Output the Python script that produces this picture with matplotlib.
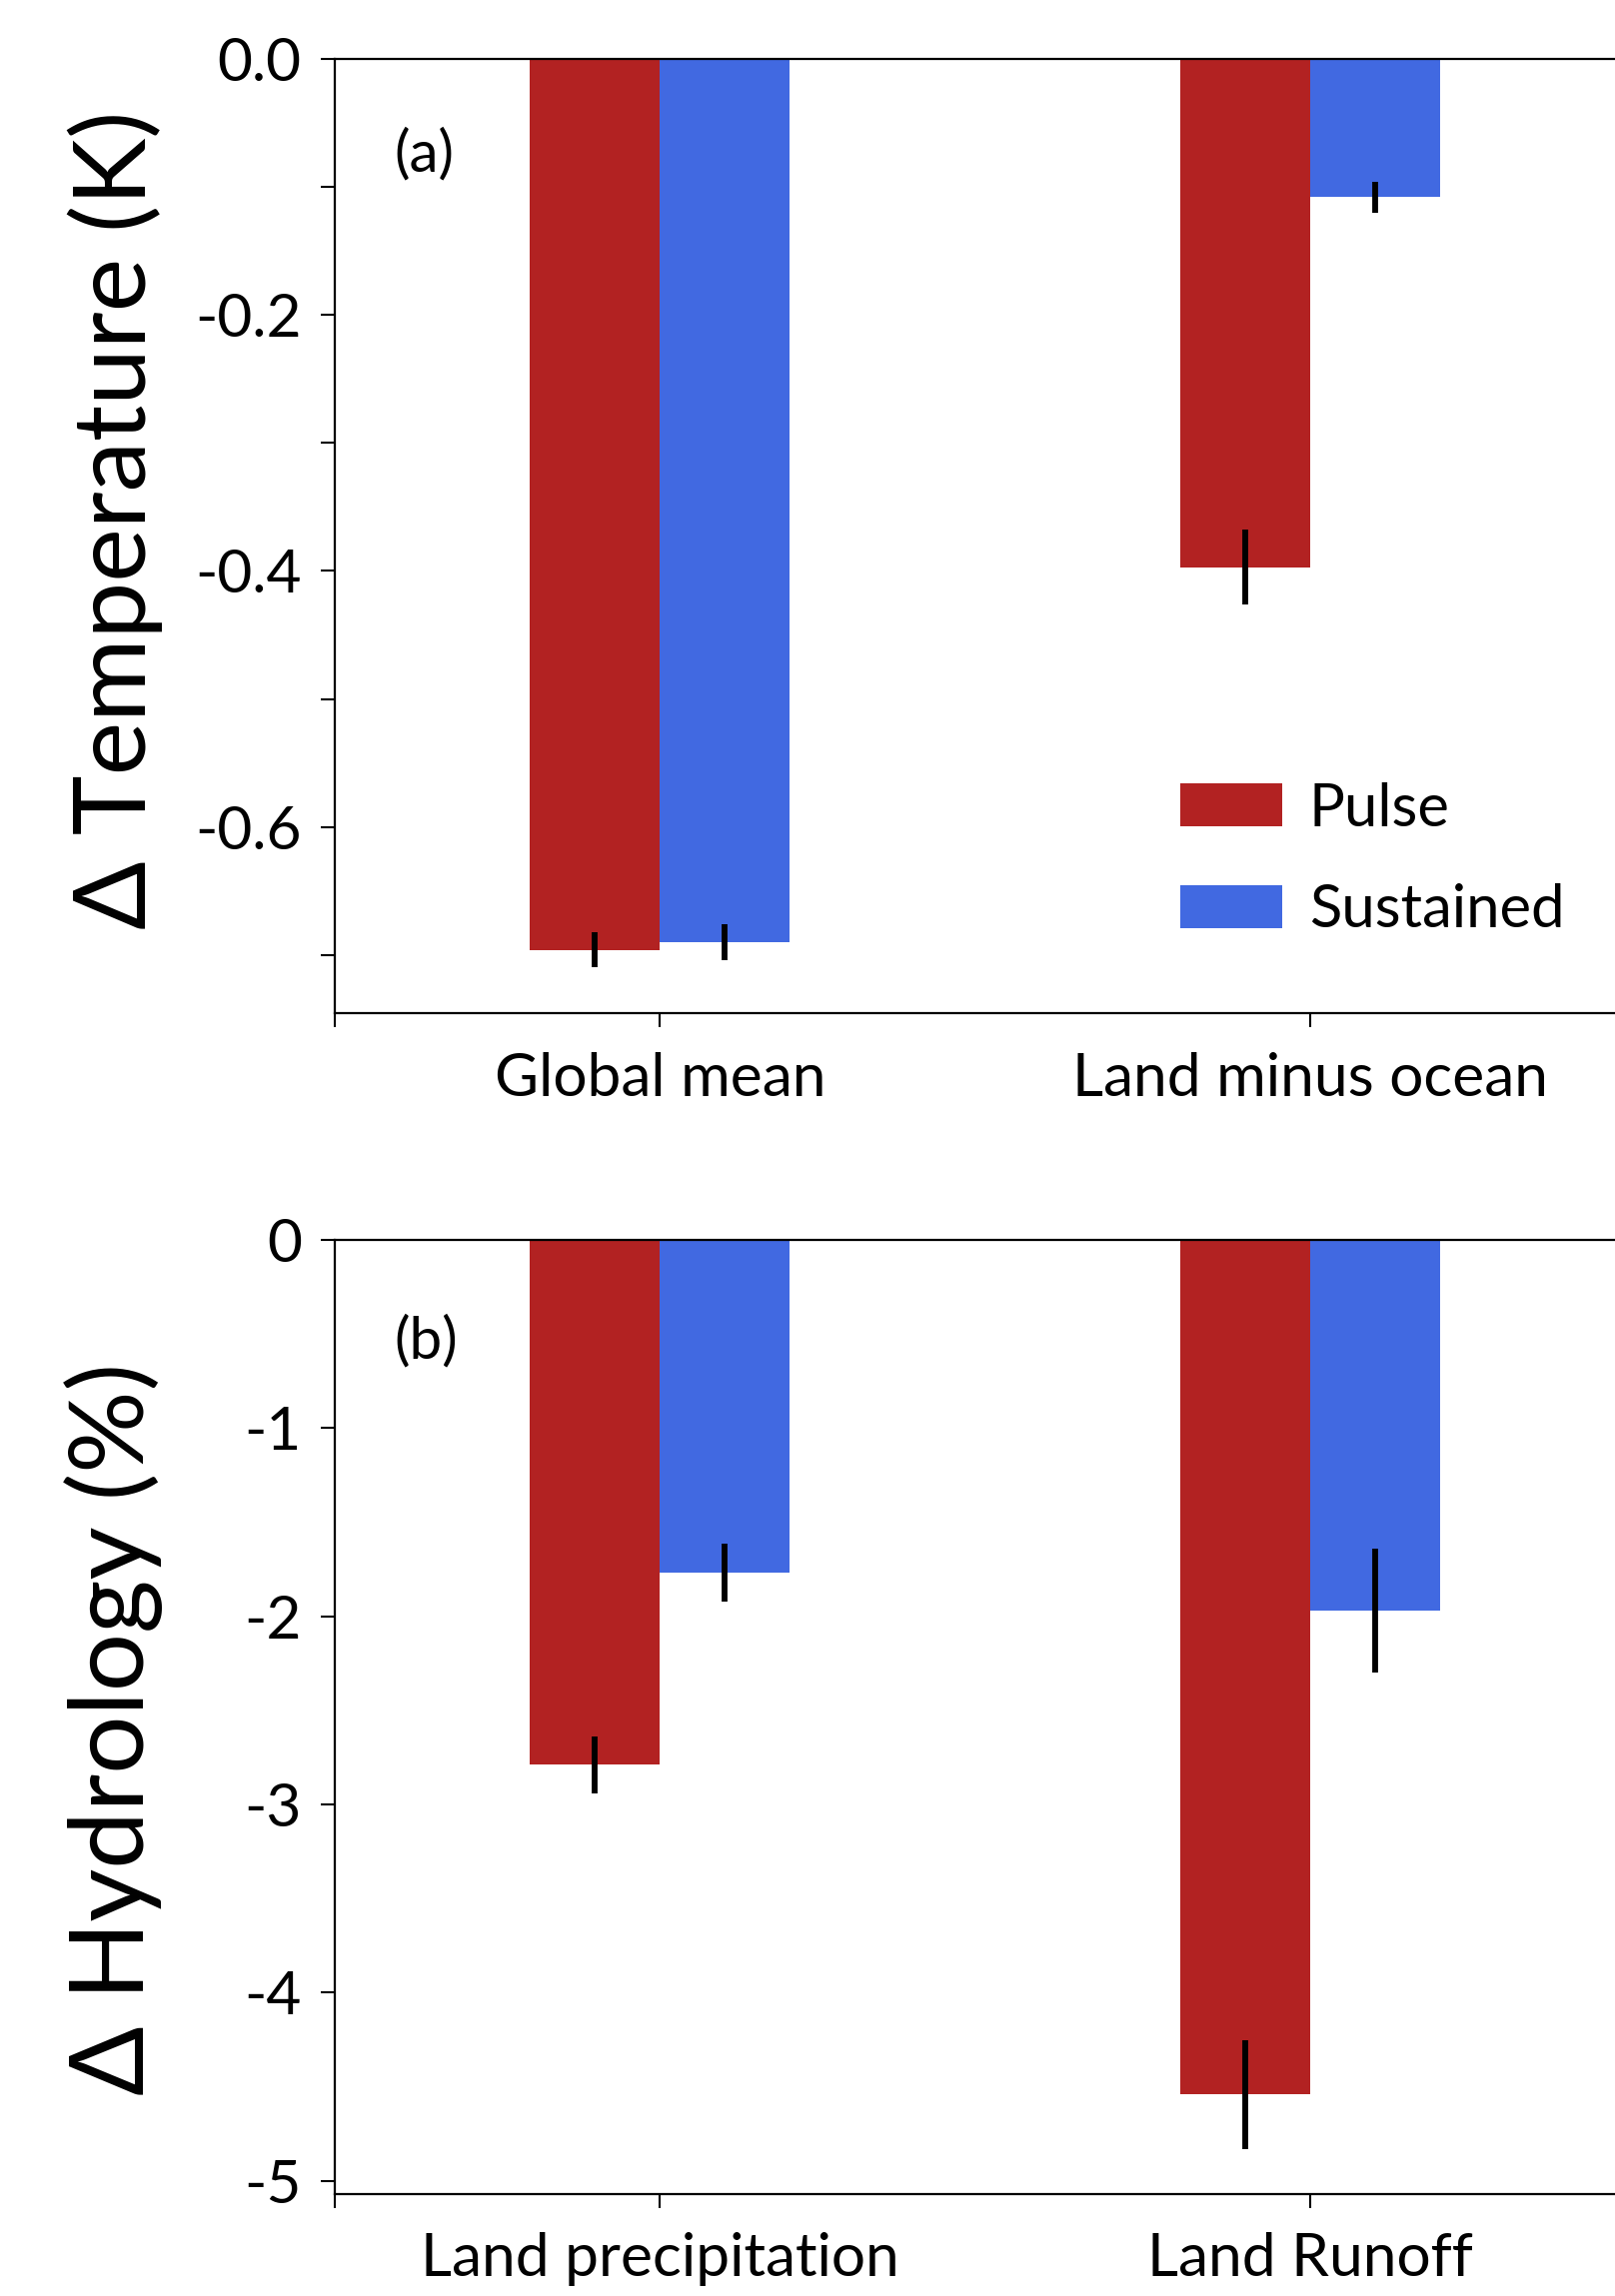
import numpy as np
import matplotlib
matplotlib.use("Agg")
import matplotlib.pyplot as plt

plt.rcParams['font.family'] = ['Lato', 'DejaVu Sans']

# data
temp_cats = ['Global mean', 'Land minus ocean']
temp_pulse = [-0.696, -0.397]
temp_pulse_err = [0.0137, 0.029]
temp_sust = [-0.690, -0.108]
temp_sust_err = [0.014, 0.012]

hydro_cats = ['Land precipitation', 'Land Runoff']
hydro_pulse = [-2.79, -4.54]
hydro_pulse_err = [0.152, 0.29]
hydro_sust = [-1.77, -1.97]
hydro_sust_err = [0.153, 0.33]

series_names = ['Pulse', 'Sustained']
red = '#B22222'
blue = '#4169E1'

fig = plt.figure(figsize=(16.16, 22.98), dpi=100)
ax1 = fig.add_axes([0.2073, 0.5589, 0.8051, 0.4155])
ax2 = fig.add_axes([0.2073, 0.0446, 0.8051, 0.4155])

tick_fs = 43.5
w = 0.2
err_kw = dict(elinewidth=4.2, capsize=0, ecolor='black')


def draw_panel(ax, cats, pulse, pulse_err, sust, sust_err):
    x = np.arange(len(cats))
    ax.bar(x - w / 2, pulse, w, yerr=pulse_err, color=red, label=series_names[0],
           error_kw=err_kw)
    ax.bar(x + w / 2, sust, w, yerr=sust_err, color=blue, label=series_names[1],
           error_kw=err_kw)
    ax.set_xlim(-0.5, 1.5)
    ax.set_xticks(x)
    ax.set_xticklabels(cats)
    ax.set_xticks([-0.5], minor=True)
    ax.spines['right'].set_visible(False)
    for s in ['left', 'bottom', 'top']:
        ax.spines[s].set_linewidth(1.6)
    ax.tick_params(which='both', direction='out', length=10, width=1.5,
                   labelsize=tick_fs, pad=14)
    ax.tick_params(axis='x', which='both', pad=18)


draw_panel(ax1, temp_cats, temp_pulse, temp_pulse_err, temp_sust, temp_sust_err)
ax1.set_ylim(-0.745, 0)
ax1.set_yticks([0.0, -0.2, -0.4, -0.6])
ax1.set_yticklabels(['0.0', '-0.2', '-0.4', '-0.6'])
ax1.set_yticks([-0.1, -0.3, -0.5, -0.7], minor=True)
ax1.set_ylabel('\u0394 Temperature (K)', fontsize=73)
ax1.yaxis.set_label_coords(-0.132, 0.517)
ax1.text(0.046, 0.900, '(a)', transform=ax1.transAxes, fontsize=42,
         ha='left', va='center')
ax1.legend(loc='upper left', bbox_to_anchor=(0.650, 0.242), frameon=False,
           fontsize=43, handlelength=1.71, handleheight=0.72,
           handletextpad=0.45, labelspacing=0.8, borderpad=0, borderaxespad=0)

draw_panel(ax2, hydro_cats, hydro_pulse, hydro_pulse_err, hydro_sust, hydro_sust_err)
ax2.set_ylim(-5.067, 0)
ax2.set_yticks([0, -1, -2, -3, -4, -5])
ax2.set_yticklabels(['0', '-1', '-2', '-3', '-4', '-5'])
ax2.set_ylabel('\u0394 Hydrology (%)', fontsize=74)
ax2.yaxis.set_label_coords(-0.132, 0.4876)
ax2.text(0.046, 0.893, '(b)', transform=ax2.transAxes, fontsize=42,
         ha='left', va='center')

fig.savefig('out.png', dpi=100)
